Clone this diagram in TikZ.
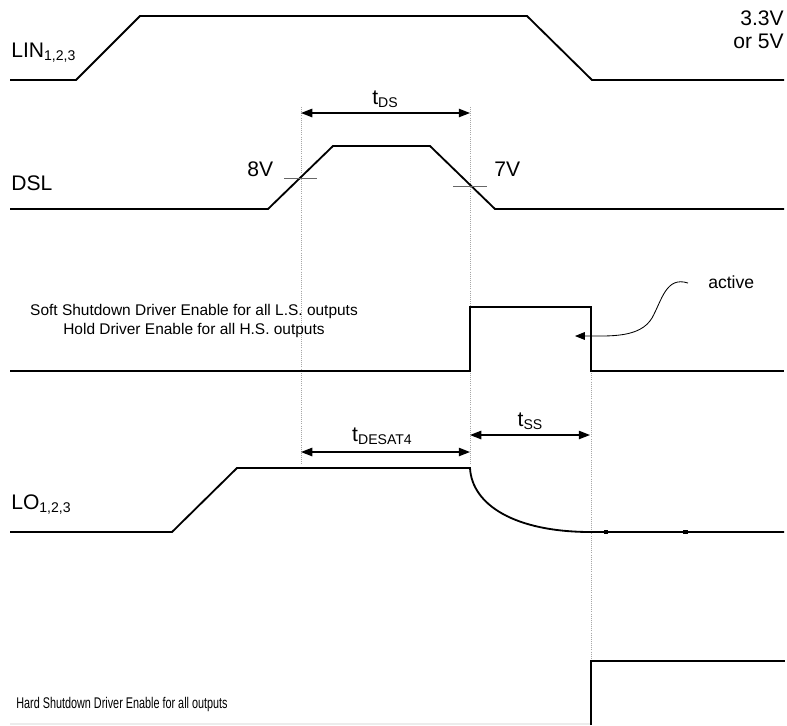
\documentclass[tikz,border=0pt]{standalone}
\usepackage{fontspec}
\setmainfont{Liberation Sans}
\usetikzlibrary{arrows.meta}
\newcommand\lowidx[1]{\raisebox{-0.35ex}{\fontsize{10}{10}\selectfont #1}}
\tikzset{
  wave/.style={line width=1.3pt,line join=miter},
  guide/.style={densely dotted,gray!70,line width=0.5pt},
  tick/.style={gray!80!black,line width=0.6pt},
  dim/.style={{Triangle[length=8pt,width=6pt]}-{Triangle[length=8pt,width=6pt]},line width=0.9pt},
  lbl/.style={font=\fontsize{15}{17}\selectfont,inner sep=0pt},
  note/.style={font=\fontsize{11}{13}\selectfont,inner sep=0pt},
}
\begin{document}
\begin{tikzpicture}[x=0.025cm,y=-0.025cm]
\useasboundingbox (0,0) rectangle (787,725);

% guide lines
\draw[guide] (301,107) -- (301,465);
\draw[guide] (470,107) -- (470,465);
\draw[guide] (591,371) -- (591,662);

% waveforms
\draw[wave] (10,80) -- (76,80) -- (140,16) -- (527,16) -- (592,80) -- (784,80);
\draw[wave] (10,209) -- (268,209) -- (333,146) -- (430,146) -- (495,209) -- (784,209);
\draw[wave] (10,371) -- (470,371) -- (470,307) -- (591,307) -- (591,371) -- (784,371);
\draw[wave] (10,532) -- (172,532) -- (237,468) -- (470,468)
  .. controls (472,505) and (515,532) .. (591,532) -- (784,532);
\draw[line width=2.2pt] (604,532) -- (608,532) (683,532) -- (688,532);
\draw[gray!15,line width=1pt] (10,724) -- (591,724);
\draw[wave] (591,725) -- (591,661) -- (785,661);

% threshold ticks
\draw[tick] (284,178) -- (317,178);
\draw[tick] (453,186) -- (487,186);

% signal names
\node[lbl,anchor=base west] (lin) at (11,57) {LIN\lowidx{1,2,3}};
\node[lbl,anchor=base west] (dsl) at (11,190) {DSL};
\node[lbl,anchor=base west] (lo) at (11,509) {LO\lowidx{1,2,3}};
\node[lbl,anchor=north east,align=right] (vcc) at (784,10) {3.3V\\or 5V};
\node[lbl,anchor=base west] (v8) at (247,176) {8V};
\node[lbl,anchor=base west] (v7) at (494,176) {7V};
\node[note,anchor=base,align=center] (ssd) at (194,334) {Soft Shutdown Driver Enable for all L.S. outputs\\Hold Driver Enable for all H.S. outputs};
\node[note,anchor=base] (hsd) at (122,708) {\scalebox{0.7}[1]{Hard Shutdown Driver Enable for all outputs}};
\node[note,anchor=base west,font=\fontsize{12.5}{14}\selectfont] (act) at (708,288) {active};

% timing
\coordinate (dsA) at (301,113);
\coordinate (dsB) at (470,113);
\coordinate (deA) at (301,452);
\coordinate (deB) at (470,452);
\coordinate (ssA) at (470,435);
\coordinate (ssB) at (590,435);
\draw[dim] (dsA) -- (dsB);
\draw[dim] (deA) -- (deB);
\draw[dim] (ssA) -- (ssB);
\node[lbl,anchor=base] (tds) at (385,104) {t\lowidx{DS}};
\node[lbl,anchor=base] (tde) at (382,441) {t\lowidx{DESAT4}};
\node[lbl,anchor=base] (tss) at (530,426) {t\lowidx{SS}};

% pointer
\coordinate (actTail) at (688,283);
\coordinate (actHit) at (575,336);
\draw[-{Triangle[length=7pt,width=5.5pt]},line width=0.6pt] (actTail)
  .. controls (666,276) and (662,300) .. (652,318)
  .. controls (640,338) and (610,336) .. (actHit);
\end{tikzpicture}
\end{document}
